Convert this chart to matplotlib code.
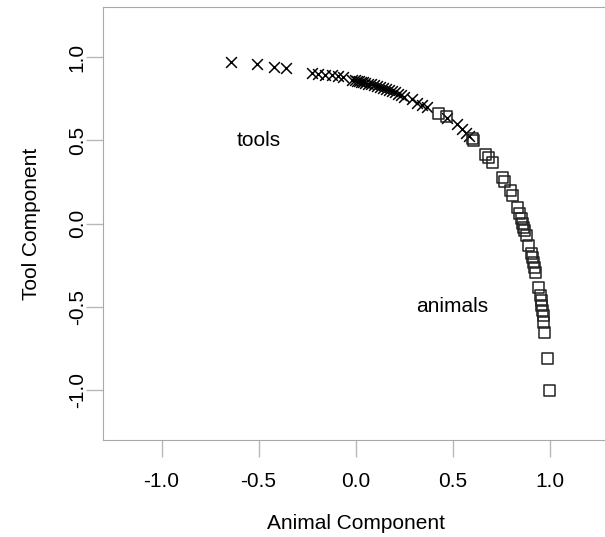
import matplotlib
matplotlib.use("Agg")
import matplotlib.pyplot as plt

plt.rcParams['font.family'] = ['Liberation Sans', 'DejaVu Sans']

# tools (x markers)
tools_x = [-0.641, -0.507, -0.420, -0.358, -0.224, -0.193, -0.157, -0.121, -0.090, -0.064,
           -0.017, -0.002, 0.008, 0.019, 0.029, 0.039, 0.049, 0.065, 0.080,
           0.096, 0.111, 0.127, 0.142, 0.158, 0.173, 0.189, 0.204, 0.220, 0.235, 0.250,
           0.292, 0.317, 0.343, 0.369, 0.472, 0.524, 0.549, 0.570, 0.585]
tools_y = [0.972, 0.960, 0.942, 0.936, 0.906, 0.900, 0.894, 0.894, 0.888, 0.882,
           0.864, 0.864, 0.858, 0.858, 0.852, 0.852, 0.846, 0.840, 0.836,
           0.834, 0.828, 0.822, 0.816, 0.810, 0.804, 0.798, 0.792, 0.780, 0.774, 0.762,
           0.750, 0.726, 0.714, 0.702, 0.636, 0.600, 0.570, 0.546, 0.528]

# animals (squares)
animals_x = [0.426, 0.467, 0.601, 0.606, 0.668, 0.684, 0.704, 0.756, 0.766, 0.797,
             0.807, 0.833, 0.843, 0.853, 0.859, 0.864, 0.869, 0.879, 0.890, 0.905,
             0.910, 0.916, 0.921, 0.926, 0.941, 0.952, 0.957, 0.957, 0.962, 0.967,
             0.967, 0.972, 0.988, 0.998]
animals_y = [0.660, 0.642, 0.510, 0.498, 0.414, 0.396, 0.366, 0.276, 0.252, 0.198,
             0.168, 0.096, 0.060, 0.030, 0.000, -0.024, -0.042, -0.072, -0.132, -0.180,
             -0.204, -0.234, -0.264, -0.294, -0.384, -0.432, -0.462, -0.492, -0.522, -0.552,
             -0.594, -0.654, -0.810, -1.002]

ticks = [-1.0, -0.5, 0.0, 0.5, 1.0]
tick_labels = ['-1.0', '-0.5', '0.0', '0.5', '1.0']

fig = plt.figure(figsize=(6.05, 5.37), dpi=100)
ax = fig.add_axes([0.1709, 0.1806, 0.8337, 0.806])

ax.scatter(tools_x, tools_y, marker='x', s=60, color='black', linewidths=1.1)
ax.scatter(animals_x, animals_y, marker='s', s=64, facecolors='none',
           edgecolors='#222222', linewidths=1.1)

ax.text(-0.5, 0.5, 'tools', fontsize=15, ha='center', va='center')
ax.text(0.5, -0.5, 'animals', fontsize=15, ha='center', va='center')

ax.set_xlim(-1.3, 1.3)
ax.set_ylim(-1.3, 1.3)
ax.set_xticks(ticks)
ax.set_xticklabels(tick_labels)
ax.set_yticks(ticks)
ax.set_yticklabels(tick_labels, rotation=90, va='center')

for s in ax.spines.values():
    s.set_color('#a8a8a8')
ax.tick_params(axis='both', length=12, color='#b8b8b8', labelsize=15, width=1)
ax.tick_params(axis='x', pad=11)
ax.tick_params(axis='y', pad=0)

ax.set_xlabel('Animal Component', fontsize=15, labelpad=16.5)
ax.set_ylabel('Tool Component', fontsize=15, labelpad=19)

fig.savefig('out.png', dpi=100)
